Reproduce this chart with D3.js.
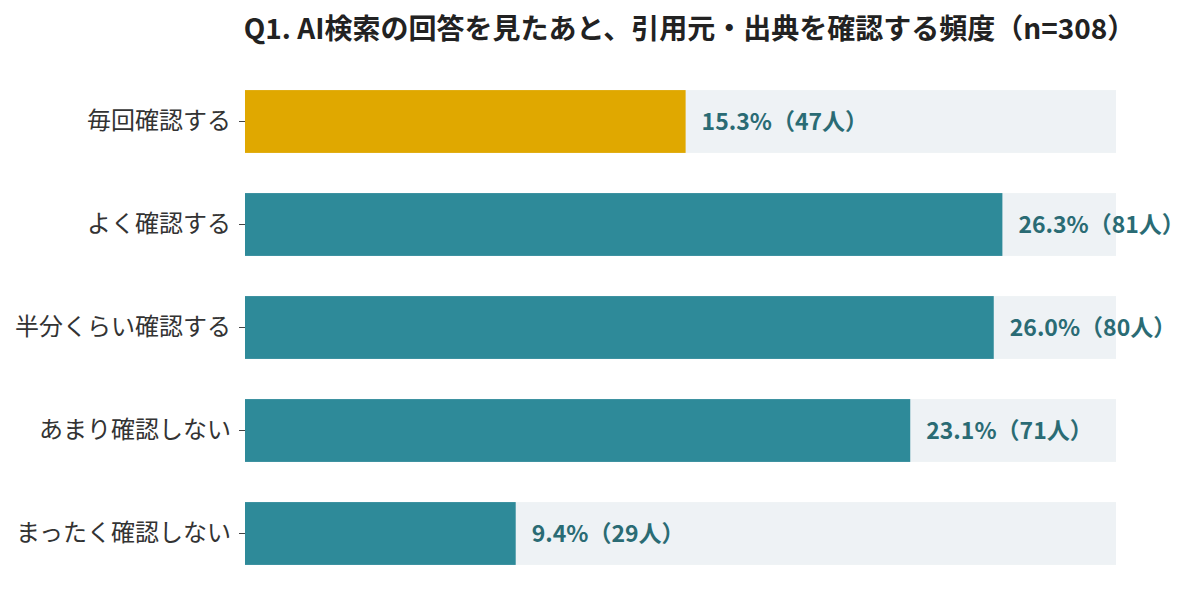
<!DOCTYPE html>
<html>
<head>
<meta charset="utf-8">
<script src="https://cdn.jsdelivr.net/npm/d3@7"></script>
<style>
  body { margin: 0; background: #fff; }
  svg { display: block; }
</style>
</head>
<body>
<div id="chart"></div>
<script>
// data
var categories = ["毎回確認する", "よく確認する", "半分くらい確認する", "あまり確認しない", "まったく確認しない"];
var percents = [15.3, 26.3, 26.0, 23.1, 9.4];
var counts = [47, 81, 80, 71, 29];
var titleText = "Q1. AI検索の回答を見たあと、引用元・出典を確認する頻度（n=308）";

var width = 1200, height = 603;
var margin = { top: 70, right: 84, bottom: 18, left: 245 };
var font = "'Noto Sans CJK JP', 'Noto Sans', sans-serif";

var svg = d3.select("#chart").append("svg")
    .attr("width", width)
    .attr("height", height);

var x = d3.scaleLinear()
    .domain([0, d3.max(percents) * 1.15])
    .range([margin.left, width - margin.right]);

var y = d3.scaleBand()
    .domain(categories)
    .range([margin.top, height - margin.bottom])
    .paddingInner(0.39)
    .paddingOuter(0.195);

var data = categories.map(function (c, i) {
    return { cat: c, pct: percents[i], n: counts[i], idx: i };
});

// background tracks
svg.append("g").selectAll("rect")
    .data(data)
    .enter().append("rect")
    .attr("x", x(0))
    .attr("y", function (d) { return y(d.cat); })
    .attr("width", x.range()[1] - x(0))
    .attr("height", y.bandwidth())
    .attr("fill", "#eef2f5");

// bars
svg.append("g").selectAll("rect")
    .data(data)
    .enter().append("rect")
    .attr("x", x(0))
    .attr("y", function (d) { return y(d.cat); })
    .attr("width", function (d) { return x(d.pct) - x(0); })
    .attr("height", y.bandwidth())
    .attr("fill", function (d) { return d.idx === 0 ? "#e0a800" : "#2e8a99"; });

// value labels
svg.append("g").selectAll("text")
    .data(data)
    .enter().append("text")
    .attr("x", function (d) { return x(d.pct) + 16; })
    .attr("y", function (d) { return y(d.cat) + y.bandwidth() / 2; })
    .attr("dy", "0.35em")
    .style("font-family", font)
    .style("font-size", "23px")
    .style("font-weight", "bold")
    .style("fill", "#2a6b74")
    .text(function (d) { return d.pct.toFixed(1) + "%（" + d.n + "人）"; });

// y axis
var y_g = svg.append("g")
    .attr("transform", "translate(" + x(0) + ",0)")
    .call(d3.axisLeft(y).tickSize(6).tickPadding(8));
y_g.select(".domain").remove();
y_g.selectAll("line").style("stroke", "#444");
y_g.selectAll("text")
    .style("font-family", font)
    .style("font-size", "24px")
    .style("fill", "#333");

// title
svg.append("text")
    .attr("x", (x.range()[0] + x.range()[1]) / 2 + 9)
    .attr("y", 39)
    .attr("text-anchor", "middle")
    .style("font-family", font)
    .style("font-size", "28px")
    .style("font-weight", "bold")
    .style("fill", "#222")
    .text(titleText);
</script>
</body>
</html>
